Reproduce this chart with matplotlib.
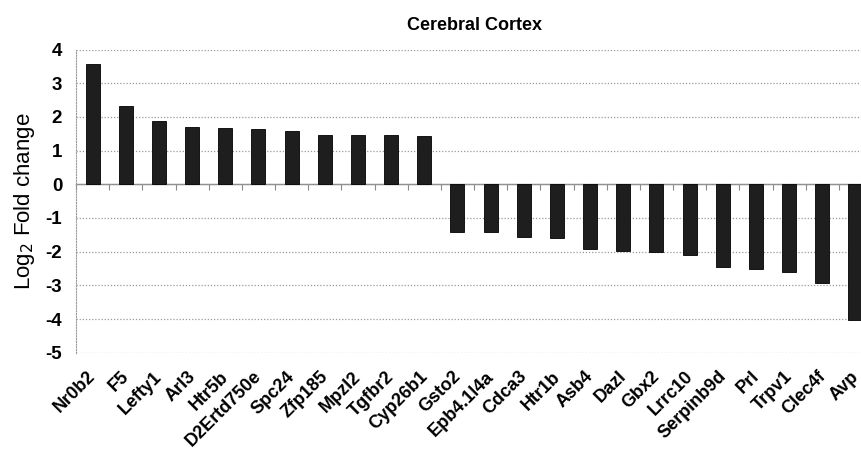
import matplotlib.pyplot as plt
import matplotlib.transforms as mtransforms
import numpy as np

# Cerebral cortex log2 fold changes
genes = ['Nr0b2', 'F5', 'Lefty1', 'Arl3', 'Htr5b', 'D2Ertd750e', 'Spc24',
         'Zfp185', 'Mpzl2', 'Tgfbr2', 'Cyp26b1', 'Gsto2', 'Epb4.1l4a',
         'Cdca3', 'Htr1b', 'Asb4', 'Dazl', 'Gbx2', 'Lrrc10', 'Serpinb9d',
         'Prl', 'Trpv1', 'Clec4f', 'Avp']
log2_fc = [3.56, 2.31, 1.89, 1.70, 1.66, 1.63, 1.58,
           1.45, 1.45, 1.45, 1.42, -1.43, -1.43,
           -1.55, -1.59, -1.92, -1.97, -2.02, -2.09, -2.44,
           -2.52, -2.59, -2.92, -4.02]
y_ticks = [4, 3, 2, 1, 0, -1, -2, -3, -4, -5]

plt.rcParams['font.family'] = ['Liberation Sans', 'DejaVu Sans']

fig = plt.figure(figsize=(8.61, 4.5), dpi=100)
# the category axis runs slightly past the right edge, as in the original
ax = fig.add_axes([0.0883, 0.216, 0.9245, 0.674])

x = np.arange(len(genes))
ax.bar(x, log2_fc, width=0.42, color='#1e1e1e', edgecolor='#000000',
       linewidth=0.6, zorder=3)

ax.set_xlim(-0.5, len(genes) - 0.5)
ax.set_ylim(min(y_ticks), max(y_ticks))
ax.set_yticks(y_ticks)
ax.set_yticklabels([str(v) for v in y_ticks], fontsize=13.5, fontweight='bold')
ax.tick_params(axis='y', length=0, pad=10)

ax.set_xticks(x)
ax.set_xticklabels(genes, rotation=45, ha='right', rotation_mode='anchor',
                   fontsize=13, fontweight='bold')
ax.tick_params(axis='x', length=0, pad=11)
# nudge the slanted labels a little to the left so they end near the bar
shift = mtransforms.ScaledTranslation(-0.055, 0, fig.dpi_scale_trans)
for lbl in ax.get_xticklabels():
    lbl.set_transform(lbl.get_transform() + shift)

ax.grid(axis='y', linestyle=(0, (1, 1.5)), color='#9a9a9a', linewidth=0.9)
ax.set_axisbelow(True)
for side in ['top', 'right', 'bottom']:
    ax.spines[side].set_visible(False)
ax.spines['left'].set_linestyle((0, (1, 1.5)))
ax.spines['left'].set_color('#9a9a9a')

# zero line with small ticks between categories
zero_ax = ax.secondary_xaxis(0, transform=ax.transData)
zero_ax.set_xticks(np.arange(len(genes) + 1) - 0.5)
zero_ax.set_xticklabels([])
zero_ax.tick_params(length=4, color='#8a8a8a', width=0.8)
zero_ax.spines['bottom'].set_color('#8a8a8a')
zero_ax.spines['bottom'].set_linewidth(1.0)

ax.set_ylabel('Log$_2$ Fold change', fontsize=16, labelpad=6)
ax.set_title('Cerebral Cortex', fontsize=13, fontweight='bold', pad=14)

fig.savefig('out.png', dpi=100)
